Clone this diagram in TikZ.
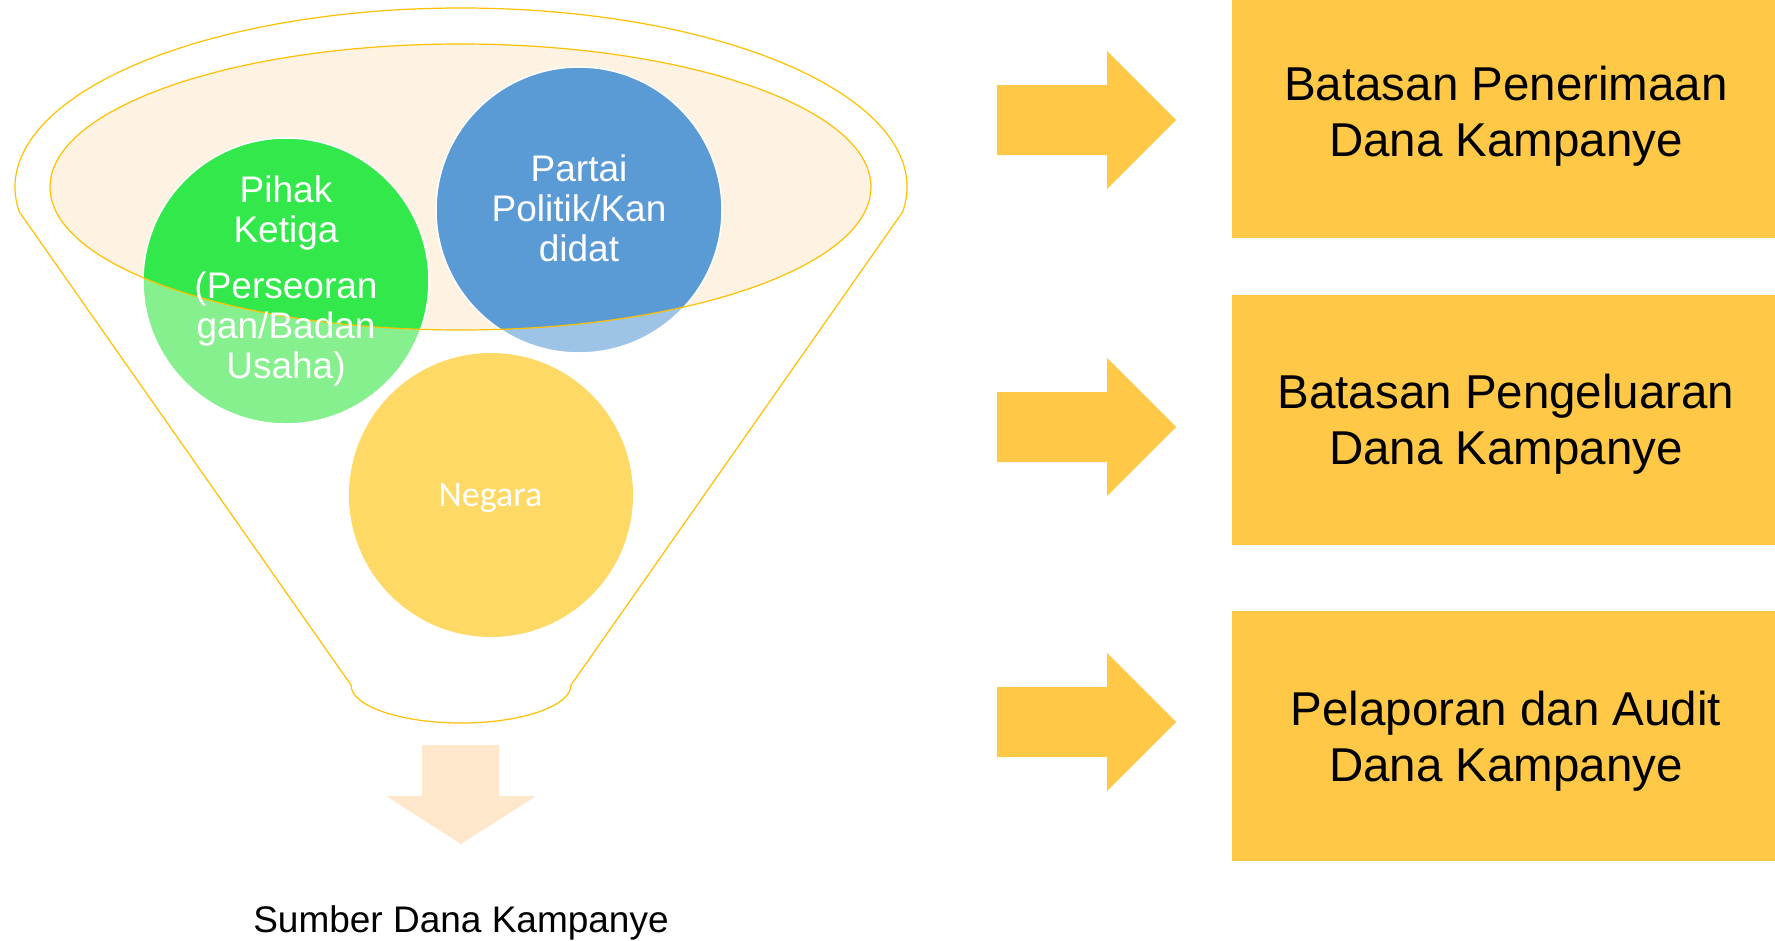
\documentclass[tikz,border=0pt]{standalone}
\usepackage{fontspec}
\setmainfont{Liberation Sans}
\newfontfamily\negfont{Carlito}
\definecolor{gold}{HTML}{FFC000}
\definecolor{peach}{HTML}{FEF2E3}
\definecolor{brgreen}{HTML}{33E84A}
\definecolor{ltgreen}{HTML}{86F08E}
\definecolor{brblue}{HTML}{5B9BD5}
\definecolor{ltblue}{HTML}{9DC3E6}
\definecolor{negyellow}{HTML}{FFD966}
\definecolor{boxyellow}{HTML}{FFC846}
\definecolor{downpeach}{HTML}{FFE7CC}
\begin{document}
\begin{tikzpicture}[x=1pt,y=-1pt,
  outline/.style={draw=gold, line width=1.2pt},
  disc/.style={draw=white, line width=1.5pt},
  circtext/.style={inner sep=0pt, align=center, text=white, font=\fontsize{37}{40}\selectfont},
  boxstyle/.style={rectangle, fill=boxyellow, minimum width=548pt, minimum height=250pt, inner sep=0pt},
  boxtext/.style={align=center, font=\fontsize{47.5}{56}\selectfont, text=black, inner sep=0pt},
  rarrow/.pic={\fill[boxyellow] (-179,-35) -- (-69,-35) -- (-69,-69) -- (0,0) -- (-69,69) -- (-69,35) -- (-179,35) -- cycle;}
]
\useasboundingbox (0,0) rectangle (1775,940);
\fill[white] (0,0) rectangle (1775,940);

% funnel outline
\draw[outline] (19.4,212) -- (351,685)
  arc[start angle=180, end angle=0, x radius=110, y radius=38]
  -- (902.6,212)
  arc[start angle=8.03, end angle=-188.03, x radius=446, y radius=179] -- cycle;

% inner ellipse
\coordinate (ec) at (460.5,187);
\fill[peach] (ec) ellipse[x radius=410.5, y radius=143];

% circles
\coordinate (cg) at (286,281);
\coordinate (cb) at (579,210);
\coordinate (cy) at (491,495);
\fill[ltgreen] (cg) circle[radius=143];
\fill[ltblue] (cb) circle[radius=143];
\fill[negyellow] (cy) circle[radius=142];
\begin{scope}
  \clip (ec) ellipse[x radius=410.5, y radius=143];
  \fill[brgreen] (cg) circle[radius=143];
  \fill[brblue] (cb) circle[radius=143];
\end{scope}
\draw[disc] (cg) circle[radius=143];
\draw[disc] (cb) circle[radius=143];
\draw[outline] (ec) ellipse[x radius=410.5, y radius=143];

% circle texts
\node[circtext] (pihak) at (cg) {Pihak\\Ketiga\\[16pt](Perseoran\\gan/Badan\\Usaha)};
\node[circtext] (partai) at ([yshift=2pt]cb) {Partai\\Politik/Kan\\didat};
\node[inner sep=0pt, anchor=base, text=white, font=\negfont\fontsize{36}{43}\selectfont] (negara) at (490.5,506) {Negara};

% down arrow
\fill[downpeach] (422,745) -- (499,745) -- (499,796) -- (536,796) -- (461,844) -- (386,796) -- (422,796) -- cycle;
\node[inner sep=0pt, anchor=base, font=\fontsize{37}{44}\selectfont] (sumber) at (461,932) {Sumber Dana Kampanye};

% right arrows
\pic (a1) at (1176,120) {rarrow};
\pic (a2) at (1176,427) {rarrow};
\pic (a3) at (1176,722) {rarrow};

% boxes
\node[boxstyle] (b1) at (1506,113) {};
\node[boxstyle] (b2) at (1506,419.5) {};
\node[boxstyle] (b3) at (1506,736) {};
\node[boxtext] (t1) at ([yshift=-3pt]b1.center) {Batasan Penerimaan\\Dana Kampanye};
\node[boxtext] (t2) at ([yshift=-5pt]b2.center) {Batasan Pengeluaran\\Dana Kampanye};
\node[boxtext] (t3) at ([yshift=-5pt]b3.center) {Pelaporan dan Audit\\Dana Kampanye};
\end{tikzpicture}
\end{document}
